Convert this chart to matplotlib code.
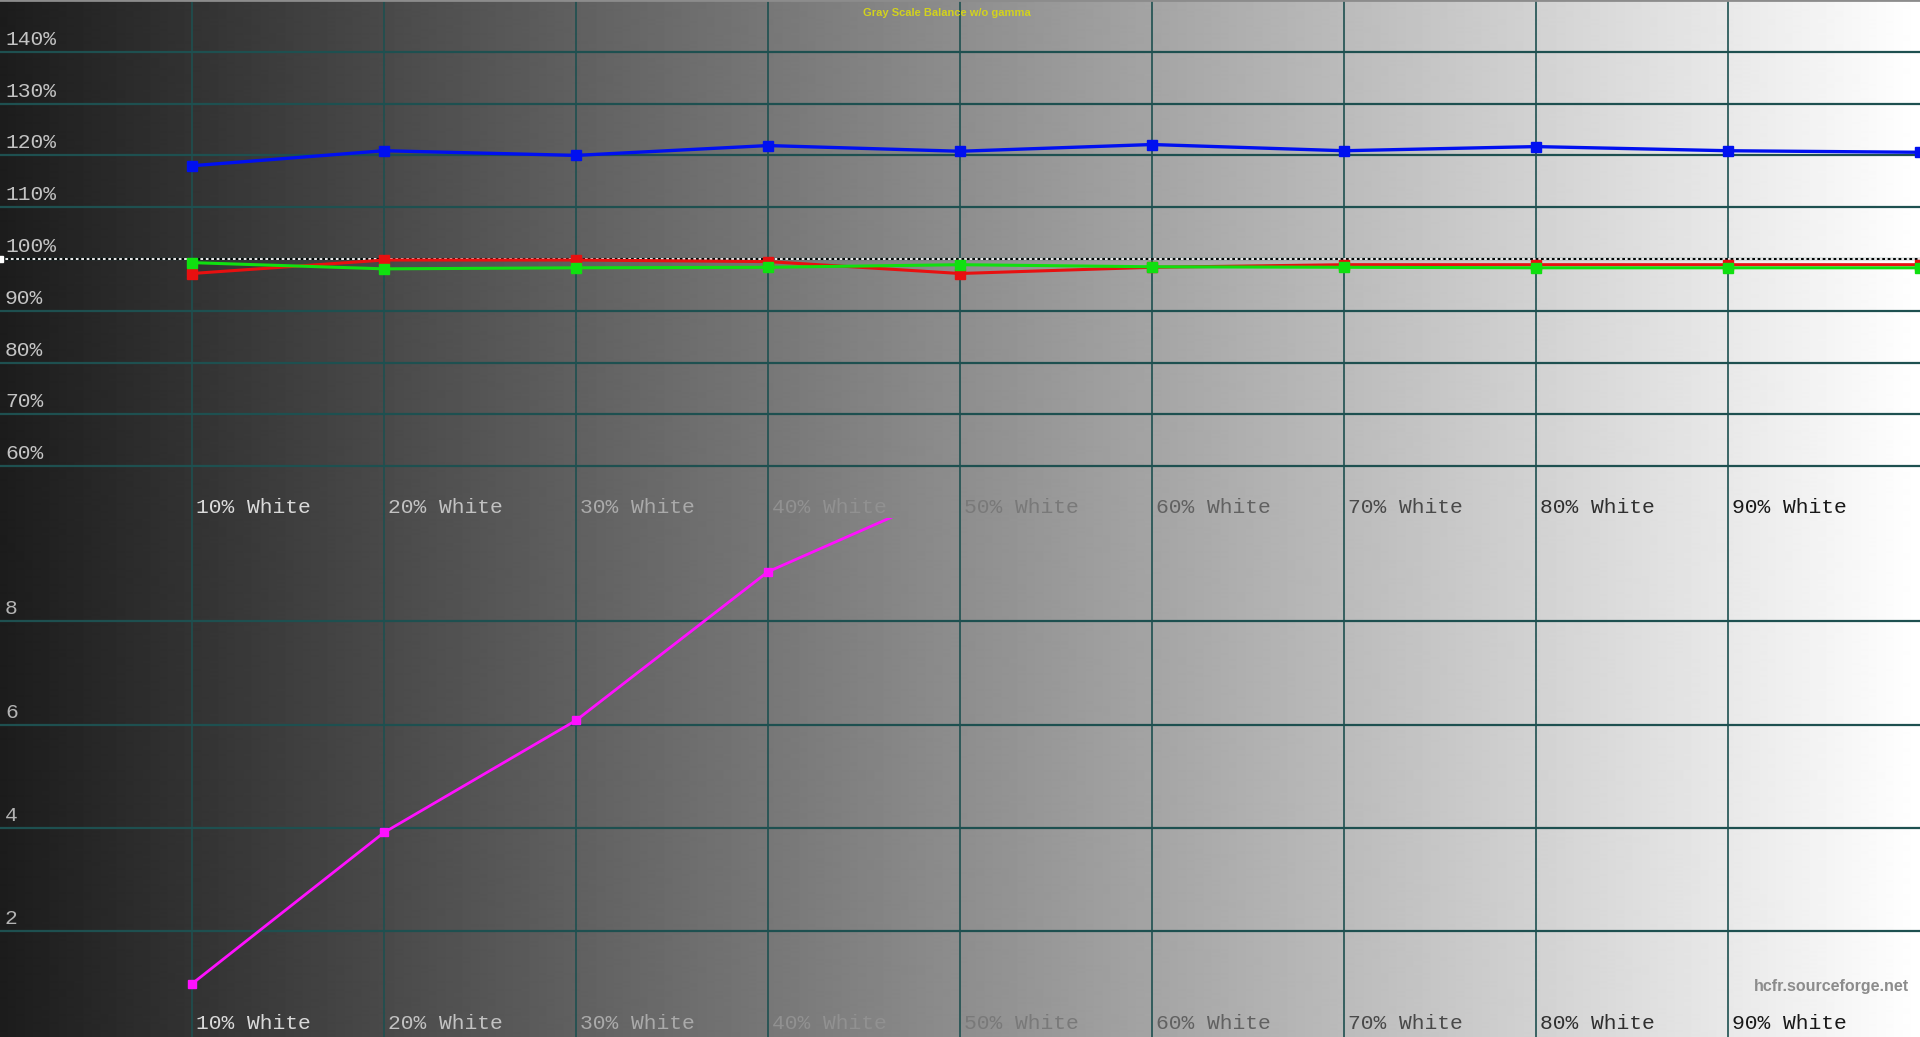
import numpy as np
import matplotlib.pyplot as plt
from matplotlib import transforms

levels = ['10% White', '20% White', '30% White', '40% White', '50% White',
          '60% White', '70% White', '80% White', '90% White']
x_pos = np.arange(1, 11)          # 10% .. 100%
red = [97.2, 99.8, 99.8, 99.5, 97.2, 98.4, 98.9, 98.9, 98.9, 98.9]
green = [99.3, 98.1, 98.3, 98.4, 98.9, 98.5, 98.4, 98.3, 98.3, 98.3]
blue = [118.0, 120.9, 120.0, 121.9, 120.8, 122.1, 120.9, 121.7, 120.9, 120.6]
delta = [0.98, 3.91, 6.08, 8.96, 10.6]   # bottom panel, 10% .. 50%

top_ticks = [60, 70, 80, 90, 100, 110, 120, 130, 140]
bot_ticks = [2, 4, 6, 8]

grid_col = '#1e5050'
mono = ['Liberation Mono', 'DejaVu Sans Mono']

fig = plt.figure(figsize=(19.2, 10.37), dpi=100)
split = 1 - 518 / 1037
ax1 = fig.add_axes([0, split, 1, 1 - split])
ax2 = fig.add_axes([0, 0, 1, split])

# gray ramp background
grad = np.linspace(0x1c / 255, 1.0, 1920).reshape(1, -1)

for ax, lo, hi, off in ((ax1, 50, 150, 5), (ax2, -0.05, 10, 8)):
    ax.imshow(grad, cmap='gray', vmin=0, vmax=1, aspect='auto',
              extent=[0, 10, lo, hi], zorder=0, interpolation='bilinear')
    ax.set_xlim(0, 10)
    ax.set_ylim(lo, hi)
    ax.axis('off')
    for v in range(1, 10):
        ax.axvline(v, color=grid_col, lw=1.2, zorder=1)
    # category labels along the bottom of each panel
    tr = transforms.offset_copy(ax.get_xaxis_transform(), fig=fig, x=4, y=off, units='dots')
    for k, lab in enumerate(levels, start=1):
        g = 0.95 - 0.095 * k
        ax.text(k, 0, lab, transform=tr, ha='left', va='baseline',
                family=mono, fontsize=15.3, color=(g, g, g), zorder=3)

# top panel: RGB balance
for t in top_ticks:
    ax1.axhline(t, color=grid_col, lw=1.6, zorder=1)
ax1.axhline(100, color='black', lw=1.3, zorder=2)
ax1.axhline(100, color='white', lw=1.3, ls=(0, (1.5, 1.5)), zorder=2)
ax1.plot(0, 100, marker='s', ms=5, color='white', clip_on=False, zorder=4)
ax1.axhline(150, color='#8c8c8c', lw=2, zorder=2)

ax1.plot(x_pos, red, color='#e81010', lw=2.2, marker='s', ms=6.5, zorder=3, clip_on=False)
ax1.plot(x_pos, green, color='#10e010', lw=2.2, marker='s', ms=6.5, zorder=3, clip_on=False)
ax1.plot(x_pos, blue, color='#0010f0', lw=2.4, marker='s', ms=6.5, zorder=3, clip_on=False)

ytr1 = transforms.offset_copy(ax1.get_yaxis_transform(), fig=fig, x=5, y=7, units='dots')
for t in top_ticks:
    ax1.text(0, t, f'{t}%', transform=ytr1, ha='left', va='baseline',
             family=mono, fontsize=15.3, color='#c4c4c4', zorder=3)

# bottom panel
for t in bot_ticks:
    ax2.axhline(t, color=grid_col, lw=1.6, zorder=1)
ax2.plot(x_pos[:len(delta)], delta, color='#ff10ff', lw=2, marker='s', ms=5.5, zorder=3)

ytr2 = transforms.offset_copy(ax2.get_yaxis_transform(), fig=fig, x=5, y=7, units='dots')
for t in bot_ticks:
    ax2.text(0, t, f'{t}', transform=ytr2, ha='left', va='baseline',
             family=mono, fontsize=15.3, color='#b4b4b4', zorder=3)

fig.text(0.493, 1 - 13 / 1037, 'Gray Scale Balance w/o gamma', ha='center', va='center',
         family=['Liberation Sans', 'DejaVu Sans'], fontweight='bold', fontsize=8, color='#d2d21e')
fig.text(0.9943, 1 - 987 / 1037, 'hcfr.sourceforge.net', ha='right', va='center',
         family=['Liberation Sans', 'DejaVu Sans'], fontweight='bold', fontsize=11.5, color='#8c8c8c')

fig.savefig('out.png', dpi=100)
